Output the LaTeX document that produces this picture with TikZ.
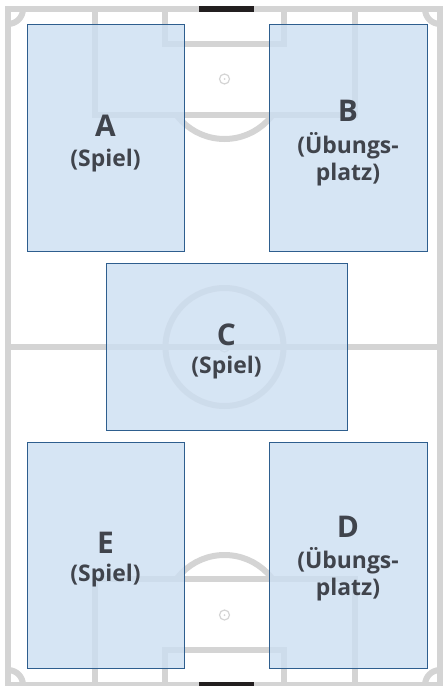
\documentclass[tikz,border=0pt]{standalone}
\usepackage{fontspec}
\setmainfont{Open Sans}
\definecolor{fieldline}{RGB}{212,212,212}
\definecolor{zonefill}{RGB}{204,222,241}
\definecolor{zoneedge}{RGB}{46,94,142}
\definecolor{labeltxt}{RGB}{64,68,76}
\definecolor{goalblack}{RGB}{35,31,32}
\tikzset{
  fline/.style={draw=fieldline, line width=6bp},
  spotline/.style={draw=fieldline, line width=1.2bp},
  zone/.style={fill=zonefill, fill opacity=0.8, draw=zoneedge, draw opacity=1, line width=1bp},
  goalbar/.style={fill=goalblack, draw=none},
  bigletter/.style={font=\bfseries\fontsize{30}{30}\selectfont, text=labeltxt, inner sep=0pt, anchor=base},
  sublabel/.style={font=\bfseries\fontsize{23}{23}\selectfont, text=labeltxt, inner sep=0pt, anchor=base}
}
\begin{document}
\begin{tikzpicture}[x=1bp,y=-1bp]
\useasboundingbox (0,0) rectangle (445,686);
% field outline and halfway line
\draw[fline] (8,9) rectangle (440,685);
\draw[fline] (8,347) -- (440,347);
\draw[fline] (224.5,347) circle[radius=59bp];
% penalty and goal areas
\draw[fline] (94.5,9) rectangle (354.5,115.5);
\draw[fline] (165,9) rectangle (284,44);
\draw[fline] (94.5,685) rectangle (354.5,578.5);
\draw[fline] (165,685) rectangle (284,650);
% penalty arcs
\begin{scope}
  \clip (0,115.5) rectangle (445,250);
  \draw[fline] (224.5,79) circle[radius=60bp];
\end{scope}
\begin{scope}
  \clip (0,450) rectangle (445,578.5);
  \draw[fline] (224.5,615) circle[radius=60bp];
\end{scope}
% corner arcs
\begin{scope}
  \clip (8,9) rectangle (440,685);
  \draw[fline] (8,9) circle[radius=15bp];
  \draw[fline] (440,9) circle[radius=15bp];
  \draw[fline] (8,685) circle[radius=15bp];
  \draw[fline] (440,685) circle[radius=15bp];
\end{scope}
% spots
\foreach \yy in {79,347,615}{
  \draw[spotline] (224.5,\yy) circle[radius=5bp];
  \fill[fieldline] (224.5,\yy) circle[radius=1bp];
}
% goals
\fill[goalbar] (199,6) rectangle (254,12);
\fill[goalbar] (199,682) rectangle (254,688);
% zones
\draw[zone] (27,25) rectangle (184,251);
\draw[zone] (269,25) rectangle (427,251);
\draw[zone] (106,263) rectangle (347,430);
\draw[zone] (27,442) rectangle (184,668);
\draw[zone] (269,442) rectangle (427,668);
% labels
\node[bigletter] (lblA) at (105.5,137) {A};
\node[sublabel] (subA) at (105.5,166) {(Spiel)};
\node[bigletter] (lblB) at (348,122) {B};
\node[sublabel] (subB1) at (348,153) {(Übungs-};
\node[sublabel] (subB2) at (348,180) {platz)};
\node[bigletter] (lblC) at (226.5,345) {C};
\node[sublabel] (subC) at (226.5,373) {(Spiel)};
\node[bigletter] (lblE) at (105.5,553) {E};
\node[sublabel] (subE) at (105.5,581) {(Spiel)};
\node[bigletter] (lblD) at (348,537) {D};
\node[sublabel] (subD1) at (348,568) {(Übungs-};
\node[sublabel] (subD2) at (348,595) {platz)};
\end{tikzpicture}
\end{document}
